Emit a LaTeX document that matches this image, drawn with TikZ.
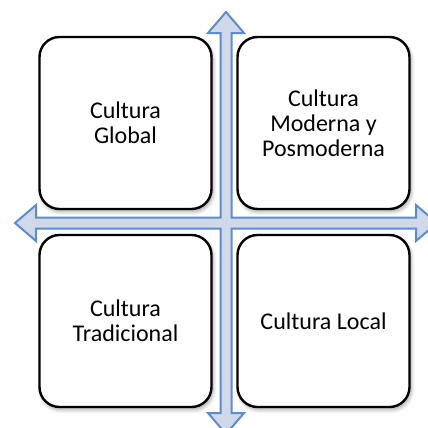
\documentclass[tikz,border=0pt]{standalone}
\usepackage{fontspec}
\setmainfont{Carlito}
\usetikzlibrary{shadows.blur}

\begin{document}
\begin{tikzpicture}[x=0.5pt,y=-0.5pt,
  cuadro/.style={draw=black, line width=1.2pt, rounded corners=10pt, fill=white,
    minimum width=86pt, minimum height=86pt, align=center,
    font=\fontsize{12}{12.5}\selectfont,
    blur shadow={shadow xshift=0.8pt, shadow yshift=-1.4pt,
      shadow blur steps=6, shadow opacity=35}}]
\definecolor{Flecha}{RGB}{208,217,233}
\definecolor{Borde}{RGB}{92,140,205}
\useasboundingbox (0,0) rectangle (428,428);
\clip (0,0) rectangle (428,428);

%% Cruz de flechas (cuatro sentidos)
\begin{scope}[shift={(226,223)}]
\draw[line width=1pt, draw=Borde, fill=Flecha, line join=miter]
  (0,-211) -- (18,-190) -- (5.5,-190) -- (5.5,-5.5)
  -- (190,-5.5) -- (190,-18) -- (211,0) -- (190,18) -- (190,5.5)
  -- (5.5,5.5) -- (5.5,190) -- (18,190) -- (0,211) -- (-18,190)
  -- (-5.5,190) -- (-5.5,5.5) -- (-190,5.5) -- (-190,18) -- (-211,0)
  -- (-190,-18) -- (-190,-5.5) -- (-5.5,-5.5) -- (-5.5,-190)
  -- (-18,-190) -- cycle;
\end{scope}

%% Cuadrantes
\node[cuadro] (global) at (125.5,123) {Cultura\\Global};
\node[cuadro] (moderna) at (323.5,123) {Cultura\\Moderna y\\Posmoderna};
\node[cuadro] (tradicional) at (125.5,321) {Cultura\\Tradicional};
\node[cuadro] (local) at (323.5,321) {Cultura Local};
\end{tikzpicture}
\end{document}
